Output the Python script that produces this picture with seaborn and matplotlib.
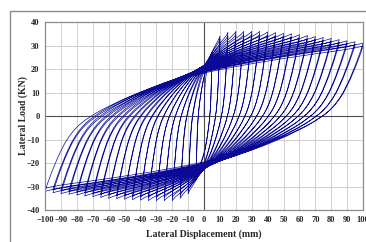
import matplotlib
matplotlib.use("Agg")
import matplotlib.pyplot as plt
from matplotlib.patches import Rectangle
import numpy as np
import pandas as pd
import seaborn as sns

# cycle amplitudes (mm) and peak loads (kN)
amplitudes = [5, 10, 15, 20, 25, 30, 35, 40, 45, 50,
              55, 60, 65, 70, 75, 80, 85, 90, 95, 100]
peak_pos = [27, 34, 35.5, 36, 36, 36, 36, 35.8, 35.5, 35.2,
            35, 34.6, 34.2, 33.8, 33.4, 33, 32.5, 32, 31.6, 31]
peak_neg = [-26, -33, -35, -36, -36, -36, -36, -35.8, -35.6, -35.4,
            -35.2, -35, -34.6, -34.3, -34, -33.6, -33.3, -33, -32.6, -32]
repeat_drop = [1.0, 0.96]  # second cycle at each amplitude peaks a bit lower

# branch shape (fraction of travel, fraction of load)
branch_u = [0, 0.002, 0.004, 0.007, 0.011, 0.016, 0.022, 0.03, 0.04, 0.05,
            0.062, 0.075, 0.09, 0.105, 0.12, 0.14, 0.16, 0.185, 0.21, 0.24,
            0.27, 0.31, 0.35, 0.40, 0.45, 0.50, 0.56, 0.62, 0.68, 0.74,
            0.80, 0.86, 0.91, 0.95, 0.98, 1.0]
branch_v = [0, 0.014, 0.028, 0.048, 0.072, 0.102, 0.137, 0.18, 0.232, 0.278,
            0.33, 0.375, 0.418, 0.452, 0.48, 0.51, 0.538, 0.568, 0.595, 0.627,
            0.655, 0.69, 0.722, 0.758, 0.79, 0.815, 0.842, 0.867, 0.89, 0.911,
            0.931, 0.95, 0.965, 0.978, 0.99, 1.0]

x_ticks = list(range(-100, 101, 10))
y_ticks = list(range(-40, 41, 10))

# reversal points of the loading history
peaks = [(0.0, 0.0)]
for d, pp, pn in zip(amplitudes, peak_pos, peak_neg):
    for f in repeat_drop:
        peaks.append((d, pp * f))
        peaks.append((-d, pn * f))

u = np.array(branch_u)
v = np.array(branch_v)
xs, ys = [], []
for (x0, y0), (x1, y1) in zip(peaks[:-1], peaks[1:]):
    xs.extend(x0 + u * (x1 - x0))
    ys.extend(y0 + v * (y1 - y0))
df = pd.DataFrame({"disp": xs, "load": ys, "step": range(len(xs))})

sns.set_theme(style="white")
plt.rcParams["font.family"] = ["Liberation Serif", "DejaVu Serif"]

fig = plt.figure(figsize=(3.66, 2.42), dpi=100)
ax = fig.add_axes([0.123, 0.132, 0.869, 0.777])

fig.patches.append(Rectangle((0.027, -0.2), 1.2, 1.155, transform=fig.transFigure,
                             fill=False, edgecolor="#8c8c8c", linewidth=1.0, zorder=0))

for t in x_ticks:
    ax.axvline(t, color="#cfcfcf", linewidth=0.7, zorder=0)
for t in y_ticks:
    ax.axhline(t, color="#cfcfcf", linewidth=0.7, zorder=0)
ax.axvline(0, color="#4d4d4d", linewidth=0.8, zorder=1)
ax.axhline(0, color="#4d4d4d", linewidth=0.8, zorder=1)

sns.lineplot(data=df, x="disp", y="load", sort=False, estimator=None,
             color="#0a0a96", linewidth=0.5, ax=ax, zorder=2)

ax.set_xlim(-100, 100)
ax.set_ylim(-40, 40)
ax.set_xticks(x_ticks)
ax.set_yticks(y_ticks)
ax.tick_params(axis="both", labelsize=6, length=0, pad=4)
for lab in ax.get_xticklabels() + ax.get_yticklabels():
    lab.set_fontweight("bold")
for s in ax.spines.values():
    s.set_color("#8c8c8c")
    s.set_linewidth(0.9)
ax.set_xlabel("Lateral Displacement (mm)", fontsize=7, fontweight="bold", labelpad=4)
ax.set_ylabel("Lateral Load (KN)", fontsize=7, fontweight="bold", labelpad=-1)

fig.savefig("out.png", dpi=100)
